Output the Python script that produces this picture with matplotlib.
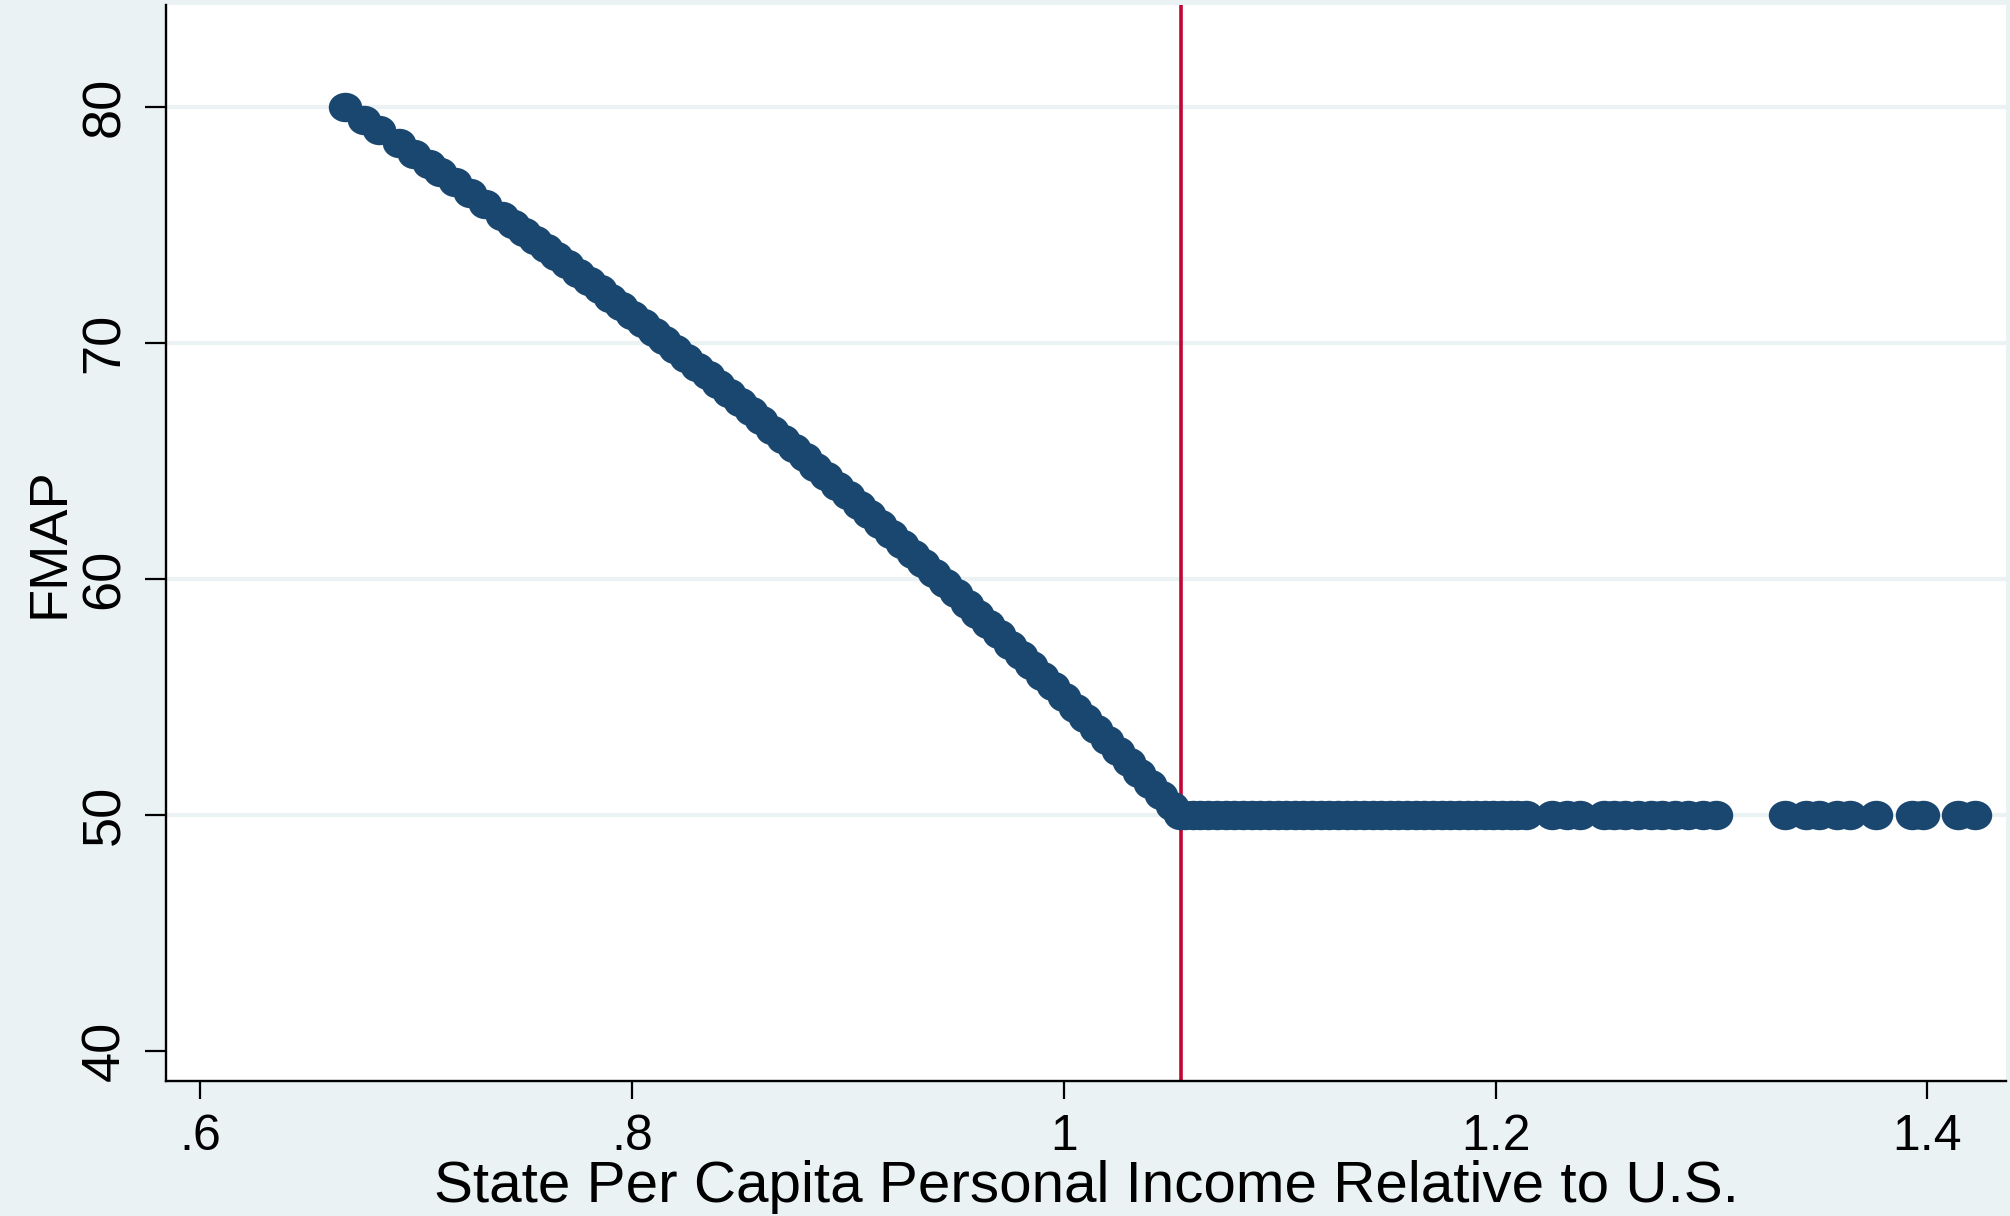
import matplotlib

matplotlib.use("Agg")
import matplotlib.pyplot as plt
from matplotlib.path import Path
from matplotlib.transforms import Affine2D


BG = "#EAF2F3"
NAVY = "#1A476F"
CRANBERRY = "#C10534"

# points on the falling part of the curve (income ratio, FMAP)
curve_x = [
    0.667, 0.676, 0.683, 0.692, 0.699, 0.706, 0.711, 0.718, 0.725, 0.732, 0.740,
    0.745, 0.750, 0.755, 0.760, 0.765, 0.770, 0.775, 0.780, 0.785, 0.790, 0.795,
    0.800, 0.805, 0.810, 0.815, 0.820, 0.825, 0.830, 0.835, 0.840, 0.845, 0.850,
    0.855, 0.860, 0.865, 0.870, 0.875, 0.880, 0.885, 0.890, 0.895, 0.900, 0.905,
    0.910, 0.915, 0.920, 0.925, 0.930, 0.935, 0.940, 0.945, 0.950, 0.955, 0.960,
    0.965, 0.970, 0.975, 0.980, 0.985, 0.990, 0.995, 1.000, 1.005, 1.010, 1.015,
    1.020, 1.025, 1.030, 1.035, 1.040, 1.045, 1.050, 1.054,
]
curve_y = [
    79.98, 79.44, 79.01, 78.45, 78.01, 77.57, 77.25, 76.80, 76.35, 75.89, 75.36,
    75.02, 74.69, 74.35, 74.01, 73.66, 73.32, 72.97, 72.62, 72.27, 71.92, 71.56,
    71.20, 70.84, 70.48, 70.11, 69.74, 69.37, 69.00, 68.62, 68.25, 67.87, 67.49,
    67.10, 66.72, 66.33, 65.94, 65.55, 65.15, 64.75, 64.36, 63.95, 63.55, 63.14,
    62.74, 62.32, 61.91, 61.50, 61.08, 60.66, 60.24, 59.81, 59.39, 58.96, 58.53,
    58.09, 57.66, 57.22, 56.78, 56.34, 55.90, 55.45, 55.00, 54.55, 54.10, 53.64,
    53.18, 52.72, 52.26, 51.80, 51.33, 50.86, 50.39, 50.01,
]

# states sitting on the 50 percent floor
floor_x = [
    1.056, 1.060, 1.063, 1.067, 1.071, 1.075, 1.079, 1.083, 1.087, 1.091, 1.095,
    1.099, 1.103, 1.107, 1.111, 1.115, 1.119, 1.123, 1.127, 1.131, 1.135, 1.139,
    1.143, 1.147, 1.151, 1.155, 1.159, 1.163, 1.167, 1.171, 1.175, 1.179, 1.183,
    1.187, 1.191, 1.195, 1.199, 1.203, 1.207, 1.210, 1.214,
    1.226, 1.233, 1.239, 1.250, 1.255, 1.260, 1.266, 1.272, 1.277, 1.283, 1.289,
    1.296, 1.302, 1.334, 1.344, 1.350, 1.358, 1.364, 1.376, 1.393, 1.398, 1.414,
    1.422,
]
floor_y = [50.0] * len(floor_x)

kink_x = 1.0541

x_ticks = [0.6, 0.8, 1.0, 1.2, 1.4]
x_tick_labels = [".6", ".8", "1", "1.2", "1.4"]
y_ticks = [40, 50, 60, 70, 80]
y_grid = [50, 60, 70, 80]

plt.rcParams["font.family"] = ["Liberation Sans", "DejaVu Sans"]

W, H = 2010, 1216
fig = plt.figure(figsize=(W / 100, H / 100), dpi=100, facecolor=BG)
ax = fig.add_axes([166 / W, 1 - 1081 / H, (2006 - 166) / W, (1081 - 5) / H])
ax.set_facecolor("white")

for y in y_grid:
    ax.axhline(y, color=BG, linewidth=3.0, zorder=1)
ax.axvline(kink_x, color=CRANBERRY, linewidth=2.6, zorder=2)

# Stata markers come out slightly flattened in this image
dot = Path.unit_circle().transformed(Affine2D().scale(1.0, 0.88))
ax.scatter(curve_x, curve_y, s=580, marker=dot, color=NAVY, linewidths=0, zorder=3)
ax.scatter(floor_x, floor_y, s=580, marker=dot, color=NAVY, linewidths=0, zorder=3)

ax.set_xlim(0.5842, 1.4364)
ax.set_ylim(38.74, 84.31)

ax.set_xticks(x_ticks)
ax.set_xticklabels(x_tick_labels)
ax.set_yticks(y_ticks)
ax.set_yticklabels([str(v) for v in y_ticks], rotation=90, va="center")
ax.tick_params(axis="x", length=13, width=1.6, pad=11, labelsize=36)
ax.tick_params(axis="y", length=15, width=1.6, pad=11, labelsize=39)

ax.set_xlabel("State Per Capita Personal Income Relative to U.S.", fontsize=42, labelpad=0)
ax.set_ylabel("FMAP", fontsize=39, labelpad=4)

for side in ("top", "right"):
    ax.spines[side].set_visible(False)
for side in ("left", "bottom"):
    ax.spines[side].set_linewidth(1.7)

fig.savefig("out.png", dpi=100, facecolor=BG)
